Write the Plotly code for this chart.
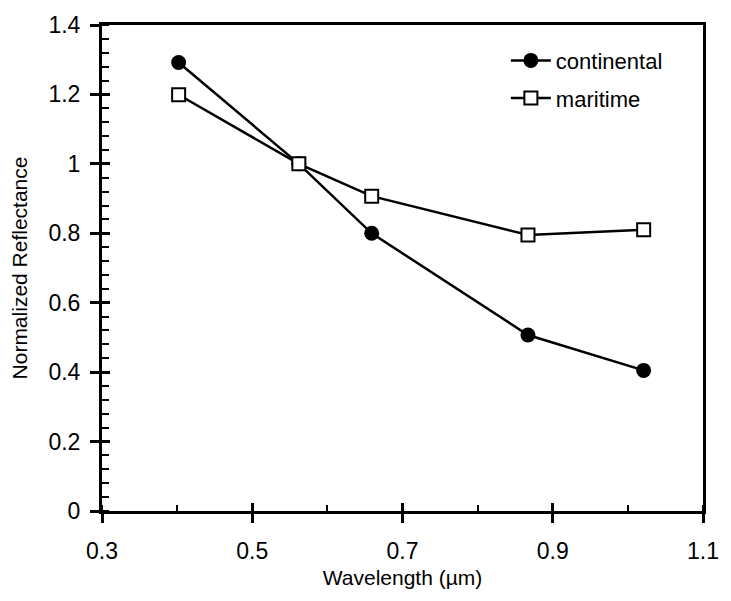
import plotly.graph_objects as go

wavelength = [0.402, 0.562, 0.659, 0.867, 1.021]
continental = [1.292, 1.0, 0.80, 0.507, 0.405]
maritime = [1.199, 1.0, 0.907, 0.795, 0.81]

x_ticks = [0.3, 0.5, 0.7, 0.9, 1.1]
x_tick_text = ["0.3", "0.5", "0.7", "0.9", "1.1"]
y_ticks = [0, 0.2, 0.4, 0.6, 0.8, 1.0, 1.2, 1.4]
y_tick_text = ["0", "0.2", "0.4", "0.6", "0.8", "1", "1.2", "1.4"]

FONT = "Liberation Sans, Arial, Helvetica, sans-serif"

fig = go.Figure()
fig.add_trace(go.Scatter(
    x=wavelength, y=continental, name="continental", mode="lines+markers",
    line=dict(color="black", width=2.5),
    marker=dict(symbol="circle", size=15, color="black"),
    legendgroup="c",
))
fig.add_trace(go.Scatter(
    x=wavelength, y=maritime, name="maritime", mode="lines+markers",
    line=dict(color="black", width=2.5),
    marker=dict(symbol="square", size=13, color="white", line=dict(color="black", width=2)),
    legendgroup="m",
))

fig.update_layout(
    width=731, height=601,
    margin=dict(l=102, r=18, t=17, b=90),
    paper_bgcolor="white", plot_bgcolor="white",
    font=dict(family=FONT, color="black", size=22),
    showlegend=True,
    legend=dict(x=0.672, y=0.97, xanchor="left", yanchor="top",
                font=dict(size=22, family=FONT), bgcolor="rgba(0,0,0,0)",
                traceorder="grouped", tracegroupgap=6, itemwidth=40),
    xaxis=dict(
        range=[0.3, 1.1], tickvals=x_ticks, ticktext=x_tick_text,
        showgrid=False, zeroline=False,
        showline=True, linecolor="black", linewidth=3, mirror=True,
        ticks="outside", ticklen=9, tickwidth=3, tickcolor="black",
        tickfont=dict(size=23, family=FONT),
        ticklabelstandoff=8,
        minor=dict(dtick=0.1, tick0=0.3, ticks="inside", ticklen=6, tickwidth=2, tickcolor="black"),
        title=dict(text="Wavelength (µm)", font=dict(size=21, family=FONT), standoff=8),
    ),
    yaxis=dict(
        range=[0, 1.4], tickvals=y_ticks, ticktext=y_tick_text,
        showgrid=False, zeroline=False,
        showline=True, linecolor="black", linewidth=3, mirror=True,
        ticks="outside", ticklen=9, tickwidth=3, tickcolor="black",
        tickfont=dict(size=23, family=FONT),
        ticklabelstandoff=5,
        minor=dict(dtick=0.04, tick0=0, ticks="inside", ticklen=7, tickwidth=2, tickcolor="black"),
        title=dict(text="Normalized Reflectance", font=dict(size=21, family=FONT), standoff=16),
    ),
    xaxis2=dict(
        range=[0.3, 1.1], tickvals=x_ticks, overlaying="x", side="bottom",
        showgrid=False, zeroline=False, showline=False, showticklabels=False,
        ticks="inside", ticklen=8, tickwidth=3, tickcolor="black",
    ),
    yaxis2=dict(
        range=[0, 1.4], tickvals=y_ticks, overlaying="y", side="left",
        showgrid=False, zeroline=False, showline=False, showticklabels=False,
        ticks="inside", ticklen=8, tickwidth=3, tickcolor="black",
    ),
)
# invisible helper trace to activate the overlay axes for crossing ticks
fig.add_trace(go.Scatter(x=[0.7], y=[0.7], xaxis="x2", yaxis="y2", mode="markers",
                         marker=dict(opacity=0), showlegend=False, hoverinfo="skip"))

fig.write_html("out.html")
